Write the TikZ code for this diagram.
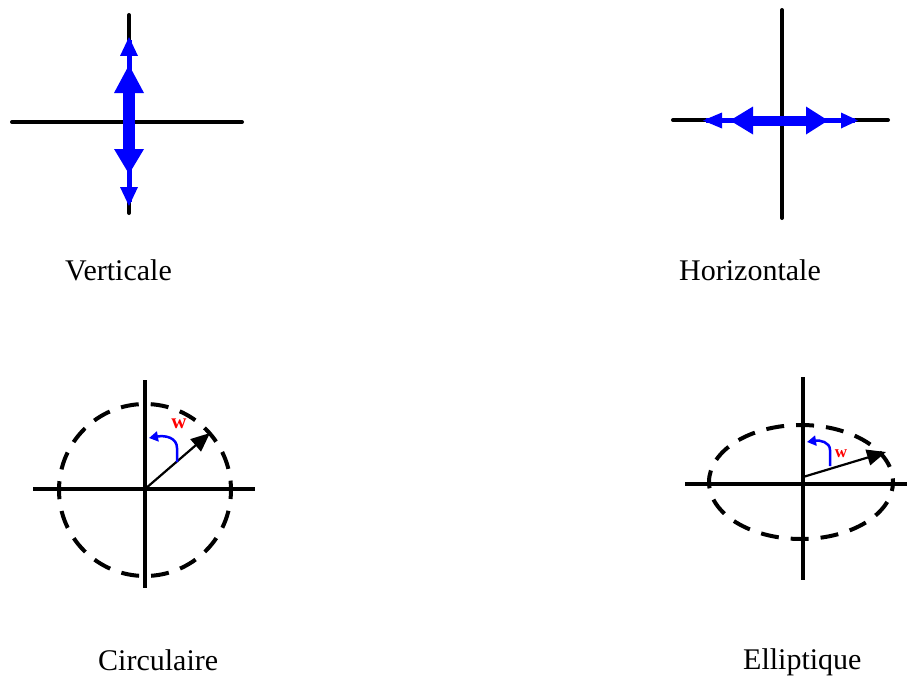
\documentclass[tikz,border=0pt]{standalone}
\usepackage{fontspec}
\setmainfont{Liberation Serif}
\usetikzlibrary{arrows.meta}
\tikzset{
  axis/.style={line width=4pt, black, line cap=round},
  axisthick/.style={line width=4.5pt, black},
  blueshape/.style={fill=blue, draw=none},
  bluethin/.style={line width=5pt, blue},
  dashring/.style={line width=4pt, black, dash pattern=on 18pt off 12pt, dash phase=9pt},
  vec/.style={line width=2.2pt, black, -{Triangle[length=19pt,width=16pt]}},
  rot/.style={line width=2.5pt, blue, -{Triangle[length=9pt,width=10pt]}},
  wlab/.style={text=red, font=\bfseries\fontsize{21}{21}\selectfont, inner sep=0pt},
  wlabs/.style={text=red, font=\bfseries\fontsize{17}{17}\selectfont, inner sep=0pt},
  caption/.style={font=\fontsize{30}{36}\selectfont, anchor=base west, inner sep=0pt}
}
\begin{document}
\begin{tikzpicture}[x=1pt,y=-1pt]
\useasboundingbox (0,0) rectangle (907,677);
% ---------- Verticale ----------
\draw[axis] (12,122) -- (242,122);
\draw[axis] (129,15) -- (129,213);
\draw[bluethin] (129,40) -- (129,202);
\fill[blueshape] (123,92) rectangle (135,150);
\fill[blueshape] (129,65) -- (114,93) -- (144,93) -- cycle;
\fill[blueshape] (129,37) -- (120,56) -- (138,56) -- cycle;
\fill[blueshape] (114,149) -- (144,149) -- (129,174) -- cycle;
\fill[blueshape] (120,187) -- (138,187) -- (129,206) -- cycle;
\node[caption] (tv) at (65,280) {Verticale};
% ---------- Horizontale ----------
\draw[axis] (782,10) -- (782,218);
\draw[axis] (673,120) -- (888,120);
\draw[bluethin] (706,120.5) -- (855,120.5);
\fill[blueshape] (753,115.5) rectangle (807,125.5);
\fill[blueshape] (730,120.5) -- (753,106.5) -- (753,134.5) -- cycle;
\fill[blueshape] (703,120.5) -- (722,112.5) -- (722,128.5) -- cycle;
\fill[blueshape] (828,120.5) -- (806,106.5) -- (806,134.5) -- cycle;
\fill[blueshape] (858,120.5) -- (841,112.5) -- (841,128.5) -- cycle;
\node[caption] (th) at (679,280) {Horizontale};
% ---------- Circulaire ----------
\draw[dashring] (145,490) circle[radius=86];
\draw[axisthick] (145,380) -- (145,588);
\draw[axisthick] (33,489) -- (255,489);
\coordinate (o1) at (145,489);
\coordinate (t1) at (210,433);
\draw[vec] (o1) -- (t1);
\coordinate (b1) at (177,462);
\coordinate (e1) at (149,438);
\draw[rot] (b1) -- (177,448) .. controls (177,438) and (166,435) .. (e1);
\node[wlab] (w1) at (179,424) {w};
\node[caption] (tc) at (98,670) {Circulaire};
% ---------- Elliptique ----------
\draw[dashring] (801,482) ellipse[x radius=92, y radius=57];
\draw[axisthick] (803,377) -- (803,580);
\draw[axisthick] (685,484) -- (907,484);
\coordinate (o2) at (803,477);
\coordinate (t2) at (886,452);
\draw[vec] (o2) -- (t2);
\coordinate (b2) at (830,466);
\coordinate (e2) at (807,442);
\draw[rot] (b2) -- (830,450) .. controls (830,442) and (820,440) .. (e2);
\node[wlabs] (w2) at (841,454) {w};
\node[caption] (te) at (743,669) {Elliptique};
\end{tikzpicture}
\end{document}
